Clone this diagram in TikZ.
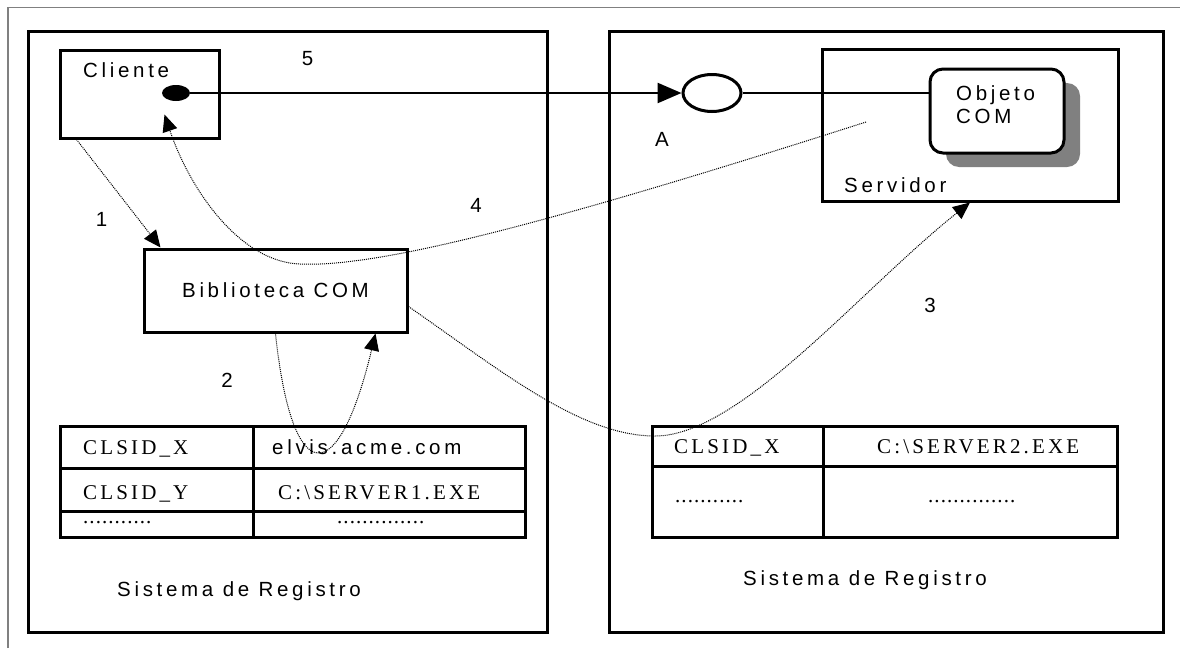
\documentclass[tikz,border=0pt]{standalone}
\usepackage{fontspec}
\setmainfont{Liberation Sans}
\newfontfamily\sansls{Liberation Sans}[LetterSpace=18]
\newfontfamily\serifls{Liberation Serif}[LetterSpace=15]
\newfontfamily\serifdots{Liberation Serif}[LetterSpace=5]
\usetikzlibrary{arrows.meta,shapes.geometric,shadows}

\begin{document}
\begin{tikzpicture}[x=1pt, y=-1pt,
  box/.style={draw, line width=3pt, inner sep=0pt},
  sans/.style={font=\sansls\fontsize{20.5}{24}\selectfont},
  txt/.style={sans, inner sep=0pt, anchor=base west},
  num/.style={sans, inner sep=0pt, anchor=base},
  cell/.style={inner sep=0pt, anchor=base west, font=\serifls\fontsize{21}{24}\selectfont},
  dots/.style={inner sep=0pt, anchor=base west, font=\serifdots\fontsize{21}{24}\selectfont},
  flow/.style={line width=1pt, dash pattern=on 1pt off 1pt, -{Triangle[length=17pt,width=15pt]}}]

\useasboundingbox (0,0) rectangle (1180,648);
% frame
\draw[gray, line width=1.5pt] (8,648) -- (8,7.5) -- (1180,7.5);

% the two machines
\draw[line width=3pt] (28,31) rectangle (547,632);
\draw[line width=3pt] (609,31) rectangle (1163,632);

% client side
\node[box, minimum width=159pt, minimum height=88pt] (cliente) at (139.5,94) {};
\node[txt] (clientetxt) at (83,77) {Cliente};
\node[ellipse, fill, minimum width=28pt, minimum height=16pt, inner sep=0pt] (proxy) at (176,93) {};
\node[box, sans, minimum width=263pt, minimum height=83pt] (biblio) at (275.5,290.5) {Biblioteca COM};

% server side
\node[box, minimum width=296pt, minimum height=152pt] (servidor) at (970,125) {};
\node[txt] (servidortxt) at (844,192) {Servidor};
\node[box, rounded corners=13pt, fill=white, minimum width=134pt, minimum height=84pt,
  drop shadow={shadow xshift=16pt, shadow yshift=-14pt, fill=gray, opacity=1}] (objeto) at (997,111) {};
\node[txt] (objetotxt) at (956,100) {Objeto};
\node[txt] (comtxt) at (956,123) {COM};
\node[ellipse, draw, line width=3pt, minimum width=58pt, minimum height=37pt, inner sep=0pt] (iface) at (712,93) {};

% call through the interface
\draw[line width=2.5pt, -{Triangle[length=24pt,width=20pt]}] (proxy.east) -- (iface.west);
\draw[line width=2.5pt] (iface.east) -- (iface.east -| objeto.west);

% registry tables
\draw[line width=3pt] (60,426) rectangle (525,537);
\draw[line width=3pt] (253,426) -- (253,537) (60,468) -- (525,468) (60,511) -- (525,511);
\draw[line width=3pt] (652,426) rectangle (1117,537);
\draw[line width=3pt] (823,426) -- (823,537) (652,466) -- (1117,466);

\node[cell] (xl) at (83,454) {CLSID\_X};
\node[txt] (elvis) at (272,454) {elvis.acme.com};
\node[cell] (yl) at (83,499) {CLSID\_Y};
\node[cell] (srv1) at (278,499) {C:\textbackslash SERVER1.EXE};
\node[dots] (dl1) at (83,523) {...........};
\node[dots] (dl2) at (337,523) {..............};
\node[cell] (xr) at (674,453) {CLSID\_X};
\node[cell] (srv2) at (877,453) {C:\textbackslash SERVER2.EXE};
\node[dots] (dr1) at (675,502) {...........};
\node[dots] (dr2) at (928,502) {..............};

\node[txt] (regl) at (117,596) {Sistema de Registro};
\node[txt] (regr) at (743,585) {Sistema de Registro};

% steps
\coordinate (srvin) at (866,122);
\draw[flow] ([xshift=18pt]cliente.south west) -- ([xshift=18pt]biblio.north west);
\draw[flow] (biblio.south) .. controls (292,490) and (338,490) .. ([xshift=100pt]biblio.south);
\draw[flow] ([yshift=-16pt]biblio.east) .. controls (500,370) and (580,436) .. (655,436)
  .. controls (740,436) and (860,290) .. (servidor.south);
\draw[flow] (srvin) .. controls (560,220) and (380,268) .. (300,264)
  .. controls (240,262) and (190,190) .. ([xshift=106pt,yshift=25pt]cliente.south west);

\node[num] (n1) at (101.5,226) {1};
\node[num] (n2) at (227,387) {2};
\node[num] (n3) at (930,312) {3};
\node[num] (n4) at (476,212) {4};
\node[num] (n5) at (307.5,65) {5};
\node[num] (na) at (662,146) {A};
\end{tikzpicture}
\end{document}
